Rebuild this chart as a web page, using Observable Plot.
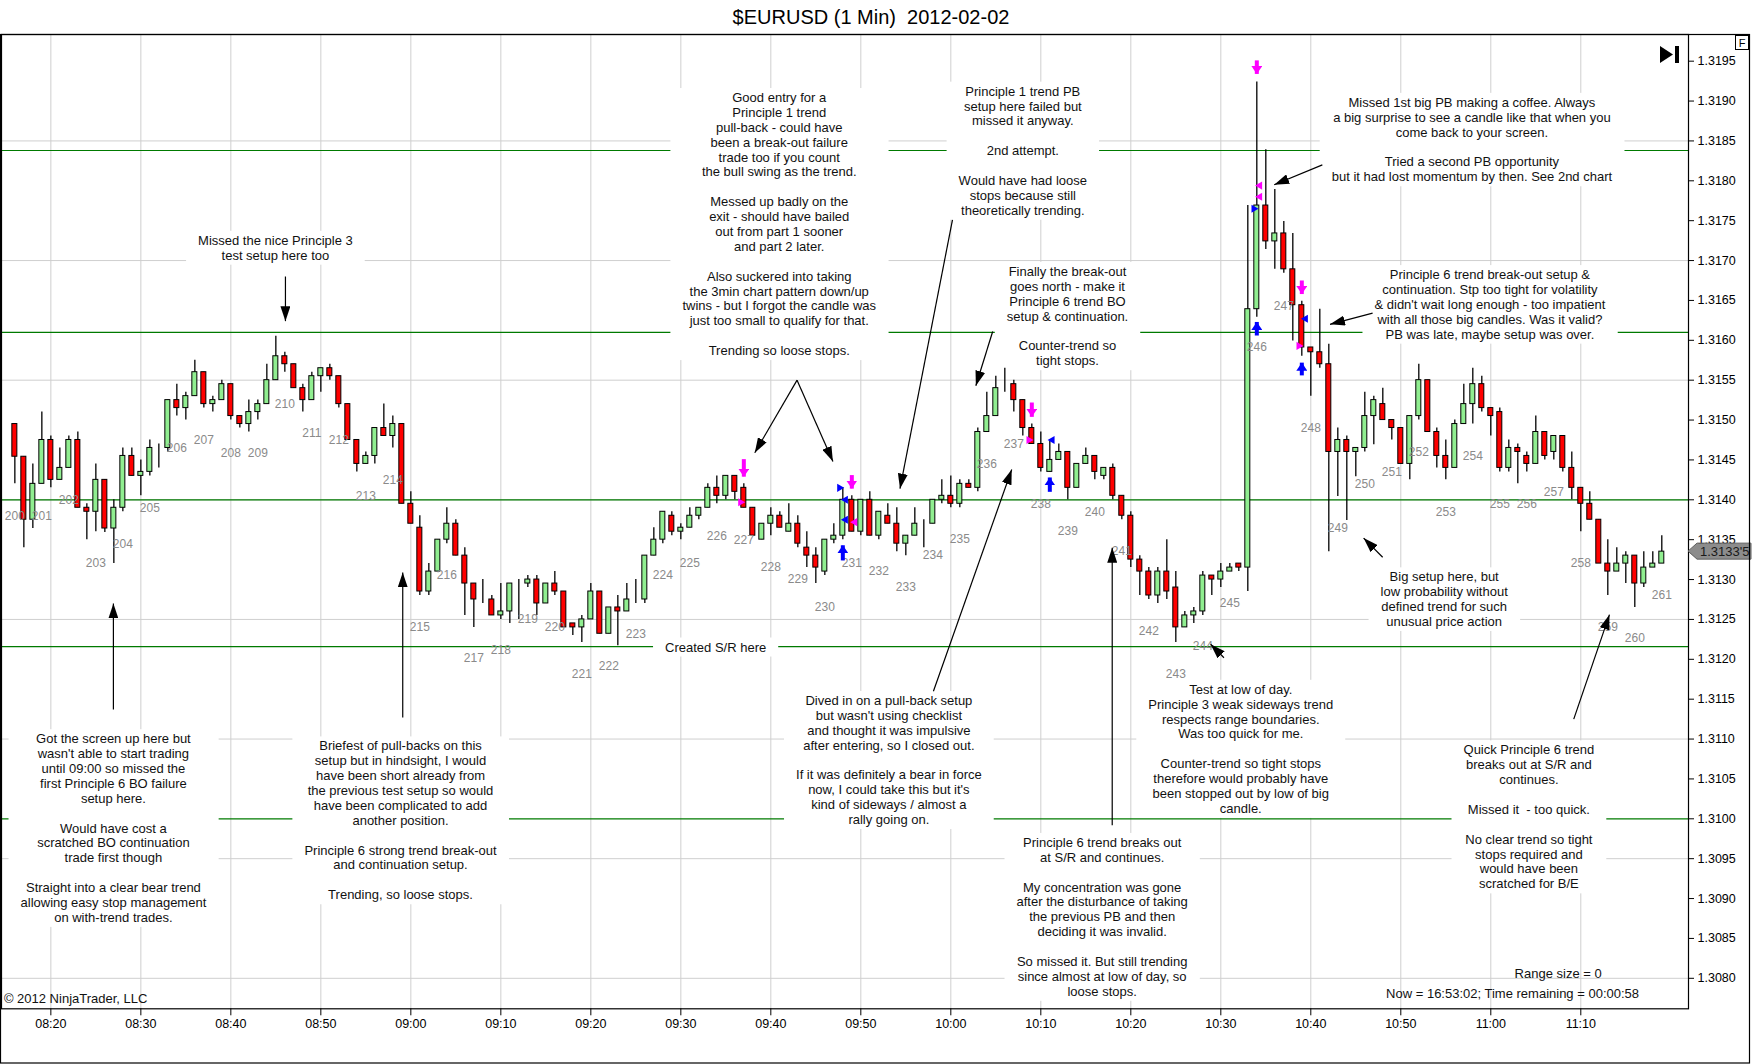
<!DOCTYPE html>
<html><head><meta charset="utf-8">
<script src="https://cdn.jsdelivr.net/npm/d3@7"></script>
<script src="https://cdn.jsdelivr.net/npm/@observablehq/plot@0.6"></script>
<style>
body{margin:0;background:#fff;font-family:"Liberation Sans",Arial,sans-serif;}
#title{height:34px;line-height:34px;text-align:center;font-size:20px;white-space:pre;width:1742px;color:#000;}
#chart svg{display:block;}
</style></head><body>
<div id="title">$EURUSD (1 Min)  2012-02-02</div>
<div id="chart"></div>
<script>
const day = "2012-02-02";
const barTimes = [
"08:16","08:17","08:18","08:19","08:20","08:21","08:22","08:23","08:24","08:25","08:26","08:27","08:28","08:29","08:30","08:31","08:32","08:33","08:34","08:35","08:36","08:37","08:38","08:39","08:40","08:41","08:42","08:43","08:44","08:45","08:46","08:47","08:48","08:49","08:50","08:51","08:52","08:53","08:54","08:55","08:56","08:57","08:58","08:59",
"09:00","09:01","09:02","09:03","09:04","09:05","09:06","09:07","09:08","09:09","09:10","09:11","09:12","09:13","09:14","09:15","09:16","09:17","09:18","09:19","09:20","09:21","09:22","09:23","09:24","09:25","09:26","09:27","09:28","09:29","09:30","09:31","09:32","09:33","09:34","09:35","09:36","09:37","09:38","09:39","09:40","09:41","09:42","09:43","09:44","09:45","09:46","09:47","09:48","09:49","09:50","09:51","09:52","09:53","09:54","09:55","09:56","09:57","09:58","09:59",
"10:00","10:01","10:02","10:03","10:04","10:05","10:06","10:07","10:08","10:09","10:10","10:11","10:12","10:13","10:14","10:15","10:16","10:17","10:18","10:19","10:20","10:21","10:22","10:23","10:24","10:25","10:26","10:27","10:28","10:29","10:30","10:31","10:32","10:33","10:34","10:35","10:36","10:37","10:38","10:39","10:40","10:41","10:42","10:43","10:44","10:45","10:46","10:47","10:48","10:49","10:50","10:51","10:52","10:53","10:54","10:55","10:56","10:57","10:58","10:59",
"11:00","11:01","11:02","11:03","11:04","11:05","11:06","11:07","11:08","11:09","11:10","11:11","11:12","11:13","11:14","11:15","11:16","11:17","11:18","11:19"];
const open = [1.31495,1.31454,1.31375,1.31420,1.31475,1.31425,1.31440,1.31475,1.31390,1.31385,
1.31425,1.31364,1.31390,1.31455,1.31430,1.31435,1.31465,1.31465,1.31525,1.31515,
1.31530,1.31560,1.31520,1.31525,1.31545,1.31505,1.31495,1.31510,1.31520,1.31550,
1.31580,1.31570,1.31540,1.31525,1.31555,1.31565,1.31555,1.31520,1.31475,1.31445,
1.31455,1.31490,1.31480,1.31495,1.31395,1.31365,1.31285,1.31310,1.31350,1.31370,
1.31330,1.31295,1.31275,1.31275,1.31255,1.31260,1.31295,1.31295,1.31300,1.31270,
1.31295,1.31285,1.31245,1.31240,1.31250,1.31285,1.31232,1.31265,1.31260,1.31275,
1.31275,1.31330,1.31350,1.31380,1.31360,1.31365,1.31380,1.31390,1.31415,1.31405,
1.31430,1.31415,1.31390,1.31350,1.31370,1.31380,1.31360,1.31370,1.31340,1.31330,
1.31310,1.31350,1.31355,1.31400,1.31360,1.31400,1.31355,1.31380,1.31370,1.31345,
1.31355,1.31370,1.31370,1.31400,1.31405,1.31395,1.31420,1.31415,1.31485,1.31505,
1.31545,1.31545,1.31525,1.31490,1.31470,1.31435,1.31450,1.31460,1.31415,1.31445,
1.31455,1.31430,1.31440,1.31405,1.31380,1.31325,1.31310,1.31280,1.31310,1.31290,
1.31240,1.31255,1.31260,1.31305,1.31300,1.31310,1.31320,1.31315,1.31639,1.31769,
1.31724,1.31734,1.31689,1.31644,1.31591,1.31585,1.31570,1.31460,1.31475,1.31460,
1.31465,1.31505,1.31520,1.31500,1.31490,1.31445,1.31505,1.31550,1.31485,1.31455,
1.31440,1.31495,1.31520,1.31545,1.31515,1.31510,1.31440,1.31465,1.31455,1.31445,
1.31485,1.31460,1.31480,1.31440,1.31415,1.31395,1.31375,1.31320,1.31310,1.31320,
1.31330,1.31295,1.31315,1.31320];
const high = [1.31495,1.31454,1.31445,1.31510,1.31480,1.31465,1.31480,1.31485,1.31395,1.31445,
1.31425,1.31400,1.31465,1.31465,1.31450,1.31475,1.31470,1.31525,1.31545,1.31535,
1.31575,1.31560,1.31530,1.31550,1.31545,1.31505,1.31525,1.31525,1.31570,1.31605,
1.31585,1.31570,1.31545,1.31560,1.31565,1.31570,1.31555,1.31520,1.31475,1.31460,
1.31490,1.31520,1.31505,1.31495,1.31410,1.31380,1.31320,1.31350,1.31390,1.31375,
1.31340,1.31295,1.31300,1.31280,1.31295,1.31295,1.31300,1.31305,1.31305,1.31295,
1.31310,1.31285,1.31245,1.31255,1.31295,1.31285,1.31265,1.31280,1.31295,1.31300,
1.31330,1.31365,1.31385,1.31385,1.31370,1.31390,1.31390,1.31420,1.31430,1.31430,
1.31430,1.31420,1.31390,1.31370,1.31390,1.31385,1.31395,1.31380,1.31360,1.31340,
1.31350,1.31370,1.31415,1.31405,1.31400,1.31410,1.31385,1.31395,1.31390,1.31355,
1.31390,1.31375,1.31400,1.31425,1.31430,1.31425,1.31425,1.31490,1.31535,1.31555,
1.31565,1.31550,1.31525,1.31495,1.31485,1.31475,1.31470,1.31460,1.31445,1.31465,
1.31455,1.31440,1.31445,1.31405,1.31385,1.31330,1.31315,1.31315,1.31350,1.31310,
1.31260,1.31265,1.31310,1.31305,1.31320,1.31320,1.31320,1.31769,1.31924,1.31839,
1.31789,1.31749,1.31734,1.31649,1.31591,1.31639,1.31595,1.31490,1.31480,1.31465,
1.31535,1.31530,1.31540,1.31500,1.31490,1.31505,1.31570,1.31550,1.31490,1.31475,
1.31500,1.31545,1.31565,1.31555,1.31515,1.31515,1.31475,1.31470,1.31460,1.31505,
1.31485,1.31480,1.31480,1.31460,1.31415,1.31410,1.31375,1.31350,1.31340,1.31335,
1.31330,1.31335,1.31335,1.31355];
const low = [1.31420,1.31340,1.31364,1.31420,1.31415,1.31425,1.31440,1.31390,1.31350,1.31360,
1.31359,1.31320,1.31385,1.31430,1.31405,1.31430,1.31440,1.31460,1.31505,1.31500,
1.31530,1.31515,1.31510,1.31525,1.31500,1.31490,1.31485,1.31500,1.31520,1.31550,
1.31560,1.31540,1.31510,1.31525,1.31535,1.31550,1.31515,1.31475,1.31435,1.31445,
1.31445,1.31480,1.31465,1.31395,1.31370,1.31280,1.31280,1.31310,1.31345,1.31330,
1.31255,1.31240,1.31270,1.31255,1.31250,1.31245,1.31250,1.31290,1.31255,1.31270,
1.31280,1.31240,1.31230,1.31221,1.31250,1.31232,1.31232,1.31217,1.31260,1.31270,
1.31270,1.31330,1.31345,1.31355,1.31350,1.31365,1.31375,1.31390,1.31395,1.31400,
1.31400,1.31390,1.31355,1.31350,1.31355,1.31365,1.31360,1.31340,1.31315,1.31295,
1.31305,1.31345,1.31350,1.31360,1.31355,1.31355,1.31350,1.31370,1.31335,1.31330,
1.31355,1.31340,1.31370,1.31395,1.31390,1.31390,1.31415,1.31410,1.31485,1.31505,
1.31535,1.31510,1.31480,1.31470,1.31435,1.31435,1.31450,1.31400,1.31415,1.31445,
1.31425,1.31425,1.31400,1.31375,1.31315,1.31280,1.31275,1.31270,1.31275,1.31221,
1.31240,1.31245,1.31255,1.31280,1.31290,1.31310,1.31310,1.31285,1.31629,1.31714,
1.31689,1.31684,1.31599,1.31580,1.31530,1.31565,1.31335,1.31404,1.31374,1.31429,
1.31460,1.31469,1.31500,1.31475,1.31445,1.31425,1.31500,1.31485,1.31440,1.31425,
1.31440,1.31495,1.31495,1.31510,1.31480,1.31435,1.31435,1.31420,1.31435,1.31445,
1.31450,1.31450,1.31435,1.31400,1.31360,1.31375,1.31320,1.31280,1.31310,1.31295,
1.31265,1.31290,1.31315,1.31320];
const close = [1.31454,1.31375,1.31420,1.31475,1.31425,1.31440,1.31475,1.31390,1.31385,1.31425,
1.31364,1.31390,1.31455,1.31430,1.31435,1.31465,1.31465,1.31525,1.31515,1.31530,
1.31560,1.31520,1.31525,1.31545,1.31505,1.31495,1.31510,1.31520,1.31550,1.31580,
1.31570,1.31540,1.31525,1.31555,1.31565,1.31555,1.31520,1.31475,1.31445,1.31455,
1.31490,1.31480,1.31495,1.31395,1.31370,1.31285,1.31310,1.31350,1.31370,1.31330,
1.31295,1.31275,1.31275,1.31255,1.31260,1.31295,1.31295,1.31300,1.31270,1.31295,
1.31285,1.31240,1.31240,1.31250,1.31285,1.31232,1.31265,1.31260,1.31275,1.31275,
1.31330,1.31350,1.31385,1.31360,1.31365,1.31380,1.31390,1.31415,1.31405,1.31430,
1.31410,1.31390,1.31355,1.31370,1.31380,1.31365,1.31370,1.31345,1.31330,1.31315,
1.31350,1.31355,1.31400,1.31360,1.31400,1.31355,1.31385,1.31370,1.31345,1.31355,
1.31370,1.31370,1.31400,1.31405,1.31395,1.31420,1.31415,1.31485,1.31505,1.31540,
1.31545,1.31525,1.31490,1.31470,1.31440,1.31450,1.31460,1.31415,1.31445,1.31455,
1.31435,1.31440,1.31405,1.31380,1.31325,1.31310,1.31280,1.31310,1.31285,1.31240,
1.31255,1.31260,1.31305,1.31300,1.31310,1.31315,1.31315,1.31639,1.31769,1.31724,
1.31734,1.31689,1.31644,1.31591,1.31585,1.31570,1.31460,1.31475,1.31460,1.31465,
1.31505,1.31525,1.31500,1.31490,1.31445,1.31505,1.31550,1.31485,1.31455,1.31440,
1.31495,1.31520,1.31545,1.31515,1.31505,1.31440,1.31465,1.31460,1.31445,1.31485,
1.31455,1.31480,1.31440,1.31415,1.31395,1.31375,1.31320,1.31310,1.31320,1.31330,
1.31295,1.31315,1.31320,1.31335];

const labelNums = [200,201,202,203,204,205,206,207,208,209,210,211,212,213,214,215,216,217,218,219,220,221,222,223,224,225,226,227,228,229,230,231,232,233,234,235,236,237,238,239,240,241,242,243,244,245,246,247,248,249,250,251,252,253,254,255,256,257,258,259,260,261];
const labelTimes = ["08:16","08:19","08:22","08:25","08:28","08:31","08:34","08:37","08:40","08:43","08:46","08:49","08:52","08:55","08:58","09:01","09:04","09:07","09:10","09:13","09:16","09:19","09:22","09:25","09:28","09:31","09:34","09:37","09:40","09:43","09:46","09:49","09:52","09:55","09:58","10:01","10:04","10:07","10:10","10:13","10:16","10:19","10:22","10:25","10:28","10:31","10:34","10:37","10:40","10:43","10:46","10:49","10:52","10:55","10:58","11:01","11:04","11:07","11:10","11:13","11:16","11:19"];
const labelPrices = [1.31379,1.31379,1.31399,1.31320,1.31345,1.31390,1.31465,1.31475,1.31459,1.31459,1.31520,1.31484,1.31475,1.31405,1.31425,1.31240,1.31305,1.31201,1.31212,1.31250,1.31240,1.31181,1.31191,1.31232,1.31305,1.31320,1.31355,1.31349,1.31315,1.31300,1.31266,1.31320,1.31310,1.31290,1.31330,1.31351,1.31445,1.31470,1.31395,1.31361,1.31385,1.31335,1.31235,1.31182,1.31216,1.31270,1.31591,1.31643,1.31490,1.31365,1.31420,1.31435,1.31460,1.31385,1.31455,1.31394,1.31394,1.31410,1.31320,1.31240,1.31226,1.31280];

const yTicks = [1.3080,1.3085,1.3090,1.3095,1.3100,1.3105,1.3110,1.3115,1.3120,1.3125,1.3130,1.3135,1.3140,1.3145,1.3150,1.3155,1.3160,1.3165,1.3170,1.3175,1.3180,1.3185,1.3190,1.3195];
const gridY = [1.3080,1.3095,1.3110,1.3125,1.3140,1.3155,1.3170,1.3185];
const xTicks = ["08:20","08:30","08:40","08:50","09:00","09:10","09:20","09:30","09:40","09:50","10:00","10:10","10:20","10:30","10:40","10:50","11:00","11:10"];
const srLevels = [1.31838,1.31610,1.31400,1.31216,1.31000];

const annTexts = [
"Missed the nice Principle 3\ntest setup here too",
"Good entry for a\nPrinciple 1 trend\npull-back - could have\nbeen a break-out failure\ntrade too if you count\nthe bull swing as the trend.\n\nMessed up badly on the\nexit - should have bailed\nout from part 1 sooner\nand part 2 later.\n\nAlso suckered into taking\nthe 3min chart pattern down/up\ntwins - but I forgot the candle was\njust too small to qualify for that.\n\nTrending so loose stops.",
"Principle 1 trend PB\nsetup here failed but\nmissed it anyway.\n\n2nd attempt.\n\nWould have had loose\nstops because still\ntheoretically trending.",
"Finally the break-out\ngoes north - make it\nPrinciple 6 trend BO\nsetup & continuation.\n\nCounter-trend so\ntight stops.",
"Missed 1st big PB making a coffee. Always\na big surprise to see a candle like that when you\ncome back to your screen.\n\nTried a second PB opportunity\nbut it had lost momentum by then. See 2nd chart",
"Principle 6 trend break-out setup &\ncontinuation. Stp too tight for volatility\n& didn't wait long enough - too impatient\nwith all those big candles. Was it valid?\nPB was late, maybe setup was over.",
"Big setup here, but\nlow probability without\ndefined trend for such\nunusual price action",
"Created S/R here",
"Dived in on a pull-back setup\nbut wasn't using checklist\nand thought it was impulsive\nafter entering, so I closed out.\n\nIf it was definitely a bear in force\nnow, I could take this but it's\nkind of sideways / almost a\nrally going on.",
"Test at low of day.\nPrinciple 3 weak sideways trend\nrespects range boundaries.\nWas too quick for me.\n\nCounter-trend so tight stops\ntherefore would probably have\nbeen stopped out by low of big\ncandle.",
"Principle 6 trend breaks out\nat S/R and continues.\n\nMy concentration was gone\nafter the disturbance of taking\nthe previous PB and then\ndeciding it was invalid.\n\nSo missed it. But still trending\nsince almost at low of day, so\nloose stops.",
"Got the screen up here but\nwasn't able to start trading\nuntil 09:00 so missed the\nfirst Principle 6 BO failure\nsetup here.\n\nWould have cost a\nscratched BO continuation\ntrade first though\n\nStraight into a clear bear trend\nallowing easy stop management\non with-trend trades.",
"Briefest of pull-backs on this\nsetup but in hindsight, I would\nhave been short already from\nthe previous test setup so would\nhave been complicated to add\nanother position.\n\nPrinciple 6 strong trend break-out\nand continuation setup.\n\nTrending, so loose stops.",
"Quick Principle 6 trend\nbreaks out at S/R and\ncontinues.\n\nMissed it  - too quick.\n\nNo clear trend so tight\nstops required and\nwould have been\nscratched for B/E"];
const annTimes = ["08:44:57","09:40:56","10:08:00","10:12:58","10:57:54","10:59:54","10:54:49","09:33:52","09:53:07","10:32:13","10:16:49","08:26:57","08:58:51","11:04:14"];
const annPrices = [1.31733,1.31912,1.31920,1.31694,1.31906,1.31690,1.31311,1.31223,1.31156,1.31170,1.30978,1.31108,1.31099,1.31094];

const arrFromTimes = ["08:46:04","09:42:55","09:42:55","10:00:11","10:04:39","10:41:17","10:46:52","10:47:59","09:58:04","10:30:21","10:17:56","08:26:57","08:59:06","11:09:13"];
const arrFromPrices = [1.31680,1.31550,1.31550,1.31751,1.31611,1.31820,1.31634,1.31328,1.31160,1.31202,1.30992,1.31137,1.31127,1.31125];
const arrToTimes = ["08:46:04","09:38:13","09:46:54","09:54:21","10:02:47","10:35:56","10:42:08","10:45:52","10:06:46","10:28:52","10:17:56","08:26:57","08:59:06","11:13:11"];
const arrToPrices = [1.31624,1.31459,1.31448,1.31414,1.31543,1.31795,1.31620,1.31352,1.31438,1.31219,1.31340,1.31270,1.31309,1.31256];

const sigTimes = ["09:37","09:49","10:09","10:34","10:39","09:48","10:11","10:34","10:39"];
const sigTail = [1.31451,1.31431,1.31522,1.31951,1.31675,1.31324,1.31410,1.31606,1.31556];
const sigTip = [1.31429,1.31414,1.31504,1.31934,1.31658,1.31343,1.31428,1.31623,1.31572];
const sigKind = ["sell","sell","sell","sell","sell","buy","buy","buy","buy"];

const mkTimes = ["09:36:38","09:47:38","09:48:18","09:48:18","09:49:20","10:08:40","10:11:16","10:34:20","10:34:20","10:33:40","10:39:25","10:38:40"];
const mkPrices = [1.31397,1.31415,1.31400,1.31375,1.31372,1.31475,1.31475,1.31794,1.31780,1.31765,1.31627,1.31593];
const mkKind = ["sell","buy","buy","buy","sell","sell","buy","sell","sell","buy","buy","sell"];
const mkDir = ["right","right","left","left","left","right","left","left","left","right","left","right"];

const footTexts = ["Range size = 0","Now = 16:53:02; Time remaining = 00:00:58","\u00a9 2012 NinjaTrader, LLC"];
const footTimes = ["11:07:29","11:02:25","08:14:47"];
const footPrices = [1.30806,1.30780,1.30774];
const footAnchor = ["middle","middle","start"];

// ---------- build ----------
const T = s => new Date(`${day}T${s.length === 5 ? s + ":00" : s}Z`);
const FONT = "Liberation Sans, Arial, sans-serif";
const UP = "#90EE90", DOWN = "#FF0000", MAG = "#FF00FF", BLU = "#0000FF";
const bars = barTimes.map((t, i) => ({t: T(t), o: open[i], h: high[i], l: low[i], c: close[i]}));
const labels = labelNums.map((n, i) => ({t: T(labelTimes[i]), p: labelPrices[i], s: String(n)}));
const anns = annTexts.map((s, i) => ({t: T(annTimes[i]), p: annPrices[i], s: s.split("\n").map(l => l === "" ? "\u00a0" : l).join("\n")}));
const arrows = arrFromTimes.map((t, i) => ({t1: T(t), p1: arrFromPrices[i], t2: T(arrToTimes[i]), p2: arrToPrices[i]}));
const sigs = sigTimes.map((t, i) => ({t: T(t), a: sigTail[i], b: sigTip[i], k: sigKind[i]}));
const mks = mkTimes.map((t, i) => ({t: T(t), p: mkPrices[i], k: mkKind[i], d: mkDir[i]}));
const foots = footTexts.map((s, i) => ({t: T(footTimes[i]), p: footPrices[i], s, a: footAnchor[i]}));
const HALF = 16700; // half body width in ms

const plot = Plot.plot({
  width: 1752, height: 1030,
  marginLeft: 1, marginRight: 64, marginTop: 0, marginBottom: 55.7,
  x: {type: "utc", domain: [T("08:14:31"), T("11:21:58")]},
  y: {domain: [1.3076176, 1.3198345]},
  style: {fontFamily: FONT, background: "white", overflow: "visible"},
  marks: [
    Plot.ruleY(gridY, {stroke: "#cfcfcf", strokeWidth: 1}),
    Plot.ruleX(xTicks.map(T), {stroke: "#cfcfcf", strokeWidth: 1}),
    Plot.ruleY(srLevels, {stroke: "#007a00", strokeWidth: 1.2}),
    Plot.text(anns, {x: "t", y: "p", text: "s", lineAnchor: "top", textAnchor: "middle", fontSize: 13, lineHeight: 1.145, fontFamily: FONT, fill: "#111", className: "annot", ariaDescription: "annot"}),
    Plot.text(foots.filter(d => d.a === "middle"), {x: "t", y: "p", text: "s", textAnchor: "middle", fontSize: 13, fontFamily: FONT, fill: "#111"}),
    Plot.text(foots.filter(d => d.a === "start"), {x: "t", y: "p", text: "s", textAnchor: "start", fontSize: 13, fontFamily: FONT, fill: "#111"}),
    Plot.ruleX(bars, {x: "t", y1: "l", y2: "h", stroke: "#000", strokeWidth: 1.3}),
    Plot.rect(bars, {x1: d => new Date(+d.t - HALF), x2: d => new Date(+d.t + HALF), y1: "o", y2: "c",
      fill: d => d.c >= d.o ? UP : DOWN, stroke: "#000", strokeWidth: 1}),
    Plot.text(labels, {x: "t", y: "p", text: "s", fill: "#8a8a8a", fontSize: 12, fontFamily: FONT}),
    Plot.dot(mks, {x: "t", y: "p", symbol: "triangle", r: 3, rotate: d => d.d === "right" ? 90 : -90,
      fill: d => d.k === "buy" ? BLU : MAG, stroke: "none"}),
    Plot.link(sigs.filter(d => d.k === "sell"), {x1: "t", y1: "a", x2: "t", y2: "b", stroke: MAG, strokeWidth: 4, className: "sigM", ariaDescription: "sigM"}),
    Plot.link(sigs.filter(d => d.k === "buy"), {x1: "t", y1: "a", x2: "t", y2: "b", stroke: BLU, strokeWidth: 4, className: "sigB", ariaDescription: "sigB"}),
    Plot.link(arrows, {x1: "t1", y1: "p1", x2: "t2", y2: "p2", stroke: "#000", strokeWidth: 1.2, className: "annarrow", ariaDescription: "annarrow"}),
    Plot.frame({stroke: "#000", strokeWidth: 1.2}),
    Plot.axisY(yTicks, {anchor: "right", tickFormat: d => d.toFixed(4), tickSize: 5, tickPadding: 4, fontSize: 12.5, fontFamily: FONT, label: null}),
    Plot.axisX(xTicks.map(T), {anchor: "bottom", tickFormat: d3.utcFormat("%H:%M"), tickSize: 7, tickPadding: 3, fontSize: 12.5, fontFamily: FONT, label: null})
  ]
});
document.getElementById("chart").append(plot);

// ---------- post-processing: text boxes, arrowheads, chrome ----------
const NS = "http://www.w3.org/2000/svg";
function el(tag, attrs, parent) {
  const e = document.createElementNS(NS, tag);
  for (const k in attrs) e.setAttribute(k, attrs[k]);
  if (parent) parent.appendChild(e);
  return e;
}
function groups(name) {
  return [...new Set(plot.querySelectorAll(`g.${name}, g[aria-description="${name}"]`))];
}
groups("annot").forEach(g => {
  g.querySelectorAll("text").forEach(t => {
    const b = t.getBBox();
    const r = el("rect", {x: b.x - 12, y: b.y - 2, width: b.width + 24, height: b.height + 4, fill: "#fff"});
    const tr = t.getAttribute("transform");
    if (tr) r.setAttribute("transform", tr);
    g.insertBefore(r, t);
  });
});
const defs = el("defs", {});
plot.insertBefore(defs, plot.firstChild);
function marker(id, w, h, color) {
  const m = el("marker", {id, viewBox: `0 0 ${w} ${h}`, refX: w, refY: h / 2, markerWidth: w, markerHeight: h, markerUnits: "userSpaceOnUse", orient: "auto"}, defs);
  el("path", {d: `M0,0L${w},${h / 2}L0,${h}Z`, fill: color}, m);
}
marker("ahK", 15, 10, "#000");
marker("ahM", 8, 11, MAG);
marker("ahB", 8, 11, BLU);
groups("annarrow").forEach(g => g.querySelectorAll("path").forEach(p => p.setAttribute("marker-end", "url(#ahK)")));
groups("sigM").forEach(g => g.querySelectorAll("path").forEach(p => p.setAttribute("marker-end", "url(#ahM)")));
groups("sigB").forEach(g => g.querySelectorAll("path").forEach(p => p.setAttribute("marker-end", "url(#ahB)")));

// price tag for last close
const lastClose = close[close.length - 1];
const yy = plot.scale("y").apply(lastClose);
const xr = plot.scale("x").range[1];
const tag = el("g", {"text-anchor": "start"}, plot);
el("path", {d: `M${xr},${yy}L${xr + 9},${yy - 8}L1751,${yy - 8}L1751,${yy + 8}L${xr + 9},${yy + 8}Z`, fill: "#8c8c8c", stroke: "#5e5e5e"}, tag);
const s5 = lastClose.toFixed(5);
const tt = el("text", {x: xr + 12, y: yy, dy: "0.36em", "text-anchor": "start", "font-size": 13, "font-family": FONT, fill: "#1a1a1a"}, tag);
tt.textContent = s5.slice(0, 6) + "'" + s5.slice(6);

// outer border and top-right chrome
el("rect", {x: 0.5, y: 0.5, width: 1749, height: 1028.5, fill: "none", stroke: "#000", "stroke-width": 1.2}, plot);
el("rect", {x: 1735.5, y: 1.5, width: 13, height: 14, fill: "#fff", stroke: "#000"}, plot);
const ft = el("text", {x: 1742, y: 12.5, "text-anchor": "middle", "font-size": 11, "font-family": FONT, fill: "#000"}, plot);
ft.textContent = "F";
el("path", {d: "M1660,12L1673,20.5L1660,29Z", fill: "#000"}, plot);
el("rect", {x: 1675, y: 12, width: 4, height: 17, fill: "#000"}, plot);
</script>
</body></html>
